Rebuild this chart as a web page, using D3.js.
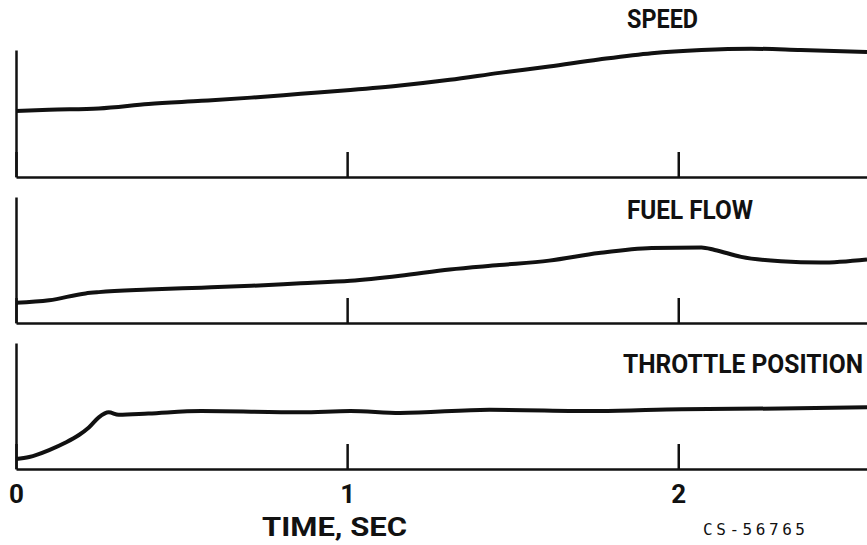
<!DOCTYPE html>
<html>
<head>
<meta charset="utf-8">
<script src="https://cdn.jsdelivr.net/npm/d3@7"></script>
<style>
  html, body { margin: 0; padding: 0; background: #fff; }
  svg { display: block; }
  .lbl { font-family: Roboto, "DejaVu Sans Condensed", sans-serif; font-weight: 700; fill: #111; }
</style>
</head>
<body>
<svg id="chart" width="867" height="545"></svg>
<script>
// time (sec) and readings (arbitrary units: 0 = baseline, 1 = top of axis)
const speedTime = [0, 0.10, 0.25, 0.40, 0.56, 0.71, 0.86, 1.01, 1.16, 1.31, 1.46, 1.61, 1.76, 1.92, 2.07, 2.22, 2.37, 2.57];
const speedValue = [0.52, 0.53, 0.54, 0.575, 0.60, 0.625, 0.655, 0.685, 0.72, 0.765, 0.82, 0.87, 0.925, 0.975, 1.0, 1.01, 1.0, 0.985];

const fuelTime = [0, 0.10, 0.21, 0.25, 0.40, 0.56, 0.71, 0.86, 1.01, 1.16, 1.31, 1.46, 1.61, 1.76, 1.92, 2.07, 2.11, 2.19, 2.31, 2.43, 2.57];
const fuelValue = [0.16, 0.18, 0.235, 0.245, 0.265, 0.28, 0.295, 0.315, 0.335, 0.375, 0.425, 0.46, 0.495, 0.555, 0.595, 0.60, 0.58, 0.525, 0.49, 0.48, 0.505];

const throttleTime = [0, 0.04, 0.10, 0.15, 0.19, 0.22, 0.25, 0.28, 0.31, 0.40, 0.56, 0.86, 1.01, 1.16, 1.43, 1.76, 2.01, 2.31, 2.57];
const throttleValue = [0.08, 0.095, 0.15, 0.21, 0.27, 0.33, 0.41, 0.45, 0.43, 0.44, 0.46, 0.45, 0.46, 0.445, 0.47, 0.46, 0.475, 0.48, 0.49];

const panelNames = ['SPEED', 'FUEL FLOW', 'THROTTLE POSITION'];
const tickValues = [0, 1, 2];
const xTitle = 'TIME, SEC';
const figureId = 'CS-56765';

const svg = d3.select('#chart');

// layout of the three strip charts
const xLeft = 16, xRight = 867;
const panels = [
  { top: 50, bottom: 177, time: speedTime, value: speedValue, label: [627, 28, 71] },
  { top: 197, bottom: 323, time: fuelTime, value: fuelValue, label: [627, 219, 126] },
  { top: 343, bottom: 469, time: throttleTime, value: throttleValue, label: [623, 373, 240] }
];

const x = d3.scaleLinear([0, 2.57], [xLeft, xRight]);

panels.forEach((p, i) => {
  const y = d3.scaleLinear([0, 1], [p.bottom, p.top]);
  const last = i === panels.length - 1;

  // baseline with upward ticks at 1 and 2 sec
  const xAxis = svg.append('g')
    .attr('transform', `translate(0,${p.bottom})`)
    .call(d3.axisBottom(x).tickValues(tickValues).tickSizeInner(-25).tickSizeOuter(0).tickPadding(16)
      .tickFormat(last ? d3.format('d') : () => ''));
  xAxis.select('.domain').attr('stroke', '#111').attr('stroke-width', 2.5);
  xAxis.selectAll('.tick line').attr('stroke', '#111').attr('stroke-width', 2.5);
  xAxis.selectAll('.tick text')
    .attr('class', 'lbl')
    .attr('font-size', 26)
    .attr('fill', '#111');

  // left axis, no ticks
  const yAxis = svg.append('g')
    .attr('transform', `translate(${xLeft},0)`)
    .call(d3.axisLeft(y).ticks(0).tickSizeOuter(0));
  yAxis.select('.domain').attr('stroke', '#111').attr('stroke-width', 2.5);

  const line = d3.line()
    .x(d => x(d[0]))
    .y(d => y(d[1]))
    .curve(d3.curveMonotoneX);

  svg.append('path')
    .attr('fill', 'none')
    .attr('stroke', '#111')
    .attr('stroke-width', 4)
    .attr('stroke-linejoin', 'round')
    .attr('d', line(d3.zip(p.time, p.value)));

  svg.append('text')
    .attr('class', 'lbl')
    .attr('x', p.label[0])
    .attr('y', p.label[1])
    .attr('font-size', 25)
    .attr('textLength', p.label[2])
    .attr('lengthAdjust', 'spacingAndGlyphs')
    .text(panelNames[i]);
});

svg.append('text')
  .attr('class', 'lbl')
  .attr('x', 262)
  .attr('y', 536)
  .attr('font-size', 25)
  .attr('textLength', 145)
  .attr('lengthAdjust', 'spacingAndGlyphs')
  .text(xTitle);

svg.append('text')
  .attr('x', 703)
  .attr('y', 535)
  .attr('font-family', '"DejaVu Sans Mono", monospace')
  .attr('font-size', 16)
  .attr('fill', '#111')
  .attr('textLength', 102)
  .attr('lengthAdjust', 'spacing')
  .text(figureId);
</script>
</body>
</html>
